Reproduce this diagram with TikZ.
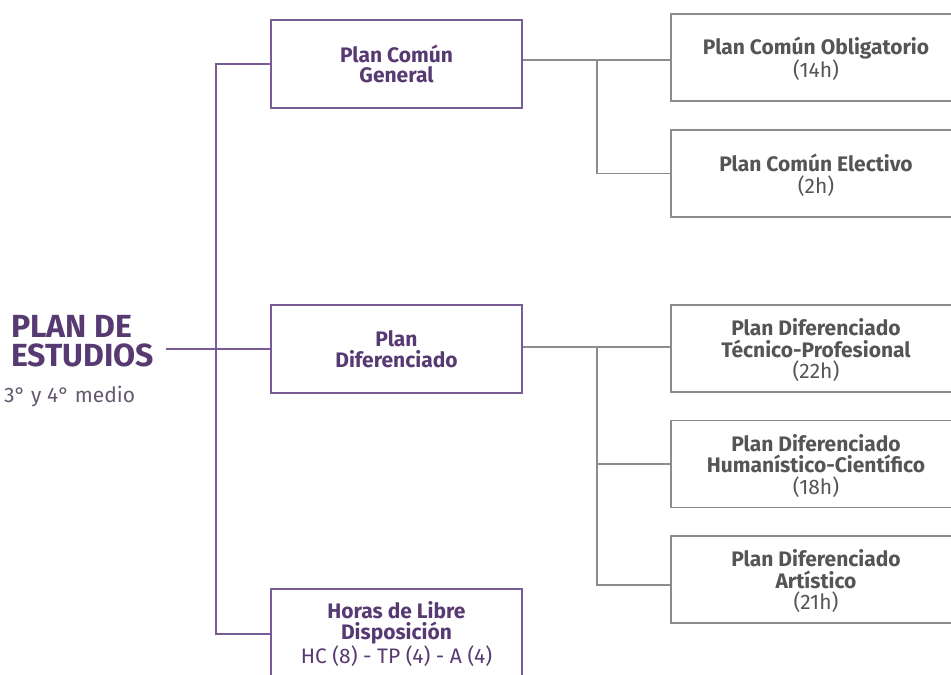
\documentclass[tikz,border=0pt]{standalone}
\usepackage{fontspec}
\setmainfont{Fira Sans}
\definecolor{purp}{RGB}{87,58,114}
\definecolor{purpline}{RGB}{120,92,148}
\definecolor{grtext}{RGB}{85,85,85}
\definecolor{grline}{RGB}{140,140,140}
\definecolor{subtxt}{RGB}{100,88,110}
\newcommand{\hrs}[1]{{\mdseries #1}}
\tikzset{
  midbox/.style={draw=purpline, line width=1.2pt, fill=white, minimum width=251pt,
    minimum height=88pt, align=center, text=purp, inner sep=0pt,
    font=\bfseries\fontsize{21}{20.5}\selectfont},
  rightbox/.style={draw=grline, line width=1.3pt, fill=white, minimum width=290pt,
    minimum height=87pt, align=center, text=grtext, inner sep=0pt, text depth=0pt,
    font=\bfseries\fontsize{21}{21.5}\selectfont},
  purpwire/.style={draw=purpline, line width=1.2pt},
  graywire/.style={draw=grline, line width=1.3pt}
}
\begin{document}
\begin{tikzpicture}[x=1pt,y=-1pt]
  \clip (0,0) rectangle (951,675);
  % title
  \node[anchor=north west, inner sep=0pt, align=left, text=purp,
    font=\bfseries\fontsize{32}{29}\selectfont] (plan) at (11,315) {PLAN DE\\ESTUDIOS};
  \node[anchor=base west, inner sep=0pt, text=subtxt,
    font=\fontsize{21}{24}\selectfont] (curso) at (4,402) {3° y 4° medio};

  % middle column
  \node[midbox] (comun) at (396.5,64) {Plan Común\\General};
  \node[midbox] (difer) at (396.5,349) {Plan\\Diferenciado};
  \node[midbox, minimum height=90pt, font=\bfseries\fontsize{21}{21}\selectfont] (libre) at (396.5,634)
    {Horas de Libre\\Disposición\\\hrs{HC (8) - TP (4) - A (4)}};

  % right column
  \node[rightbox] (oblig) at (816,57.5) {Plan Común Obligatorio\\\hrs{(14h)}};
  \node[rightbox] (elect) at (816,173.5) {Plan Común Electivo\\\hrs{(2h)}};
  \node[rightbox] (tp) at (816,348.5) {Plan Diferenciado\\Técnico-Profesional\\\hrs{(22h)}};
  \node[rightbox] (hc) at (816,464) {Plan Diferenciado\\Humanístico-Científico\\\hrs{(18h)}};
  \node[rightbox] (art) at (816,579.5) {Plan Diferenciado\\Artístico\\\hrs{(21h)}};

  % connectors
  \coordinate (raiz) at (166,349);
  \coordinate (tronco) at (216,349);
  \coordinate (rama1) at (597,60);
  \coordinate (rama2) at (597,347);
  \draw[purpwire] (raiz) -- (difer.west);
  \draw[purpwire] (comun.west) -| (tronco) |- (libre.west);

  \draw[graywire] (comun.east |- rama1) -- (oblig.west |- rama1);
  \draw[graywire] (rama1) |- (elect.west);
  \draw[graywire] (difer.east |- rama2) -- (tp.west |- rama2);
  \draw[graywire] (rama2) |- (hc.west);
  \draw[graywire] (rama2) |- ([yshift=-5.5pt]art.west);
\end{tikzpicture}
\end{document}
